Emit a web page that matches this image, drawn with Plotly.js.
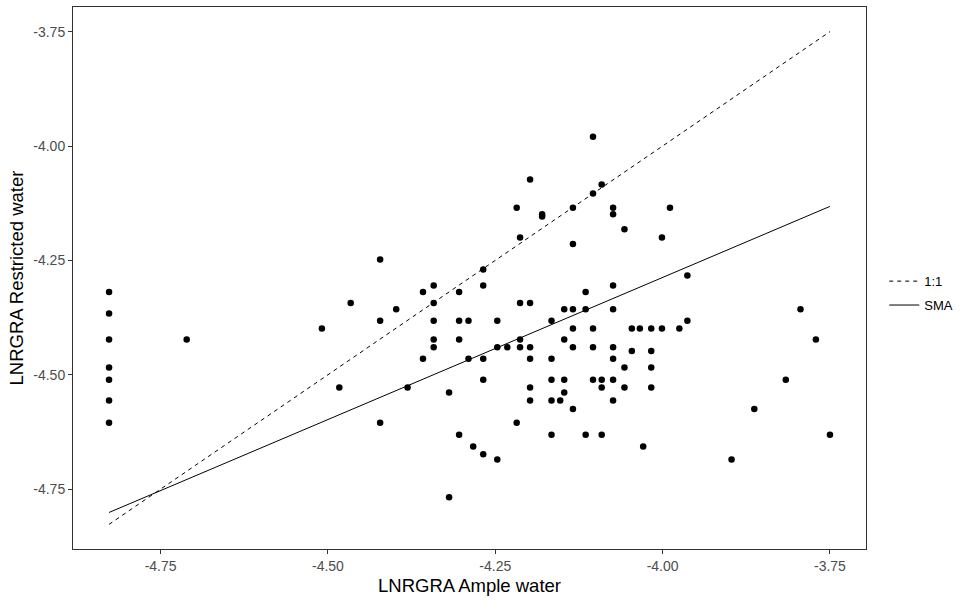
<!DOCTYPE html>
<html>
<head>
<meta charset="utf-8">
<script src="https://cdn.plot.ly/plotly-3.0.1.min.js"></script>
<style>
  html, body { margin: 0; padding: 0; background: #ffffff; }
  #chart { width: 967px; height: 601px; }
</style>
</head>
<body>
<div id="chart"></div>
<script>
// LNRGRA under ample water (x) vs restricted water (y), one point per genotype
const ampleWater = [
  -4.827, -4.827, -4.827, -4.827, -4.827, -4.827, -4.827, -4.711,
  -4.422, -4.268, -4.342, -4.268, -4.358, -4.304, -4.466, -4.342,
  -4.398, -4.509, -4.422, -4.342, -4.304, -4.290, -4.247, -4.342,
  -4.304, -4.342, -4.247, -4.358, -4.290, -4.268, -4.483, -4.381,
  -4.268, -4.319, -4.422, -4.304, -4.283, -4.268, -4.247, -4.319,
  -4.104, -4.198, -4.091, -4.104, -4.218, -4.180, -4.180, -4.134,
  -4.074, -4.074, -4.057, -4.213, -4.134, -4.074, -4.115, -4.213,
  -4.198, -4.147, -4.134, -4.115, -4.074, -4.166, -4.134, -4.104,
  -4.046, -4.034, -4.017, -4.001, -3.975, -4.213, -4.147, -4.232,
  -4.213, -4.198, -4.134, -4.104, -4.074, -4.198, -4.166, -4.074,
  -4.046, -4.017, -4.057, -4.017, -4.166, -4.147, -4.104, -4.091,
  -4.074, -4.198, -4.147, -4.091, -4.057, -4.017, -4.198, -4.166,
  -4.153, -4.074, -4.134, -4.218, -4.166, -4.115, -4.091, -4.029,
  -3.989, -4.001, -3.963, -3.963, -3.794, -3.771, -3.816, -3.863,
  -3.750, -3.897
];
const restrictedWater = [
  -4.319, -4.366, -4.423, -4.484, -4.511, -4.556, -4.605, -4.423,
  -4.248, -4.270, -4.305, -4.305, -4.319, -4.319, -4.343, -4.343,
  -4.357, -4.399, -4.382, -4.382, -4.382, -4.382, -4.382, -4.423,
  -4.423, -4.440, -4.440, -4.465, -4.465, -4.465, -4.528, -4.528,
  -4.511, -4.539, -4.605, -4.631, -4.657, -4.674, -4.685, -4.768,
  -3.980, -4.073, -4.084, -4.104, -4.135, -4.149, -4.154, -4.135,
  -4.135, -4.149, -4.182, -4.200, -4.214, -4.305, -4.319, -4.343,
  -4.343, -4.357, -4.357, -4.357, -4.357, -4.382, -4.399, -4.399,
  -4.399, -4.399, -4.399, -4.399, -4.399, -4.423, -4.423, -4.440,
  -4.440, -4.440, -4.440, -4.440, -4.440, -4.465, -4.465, -4.465,
  -4.448, -4.448, -4.484, -4.484, -4.511, -4.511, -4.511, -4.511,
  -4.511, -4.528, -4.539, -4.528, -4.528, -4.528, -4.556, -4.556,
  -4.556, -4.556, -4.575, -4.605, -4.631, -4.631, -4.631, -4.657,
  -4.135, -4.200, -4.283, -4.382, -4.357, -4.423, -4.511, -4.575,
  -4.631, -4.685
];

// Standardised major axis fit, drawn across the observed x span
const smaX = [-4.827, -3.750];
const smaY = [-4.801, -4.132];

// Reference 1:1 line over the same span
const oneToOneX = [Math.min(...ampleWater), Math.max(...ampleWater)];
const oneToOneY = oneToOneX.slice();

const tickVals = [-4.75, -4.50, -4.25, -4.00, -3.75];
const tickText = ['-4.75', '-4.50', '-4.25', '-4.00', '-3.75'];

// 5% padding around everything that is drawn on each axis
function paddedRange(values) {
  const lo = Math.min(...values), hi = Math.max(...values);
  const pad = (hi - lo) * 0.05;
  return [lo - pad, hi + pad];
}
const xRange = paddedRange(ampleWater.concat(smaX, oneToOneX));
const yRange = paddedRange(restrictedWater.concat(smaY, oneToOneY));

const FONT = 'Liberation Sans, Arial, Helvetica, sans-serif';

const traces = [
  {
    x: ampleWater, y: restrictedWater,
    type: 'scatter', mode: 'markers',
    marker: { color: '#000000', size: 6.5 },
    showlegend: false, hoverinfo: 'x+y'
  },
  {
    x: oneToOneX, y: oneToOneY,
    type: 'scatter', mode: 'lines', name: '1:1', legendgroup: 'ref',
    line: { color: '#000000', width: 1, dash: '4px,4px' }
  },
  {
    x: smaX, y: smaY,
    type: 'scatter', mode: 'lines', name: 'SMA', legendgroup: 'fit',
    line: { color: '#000000', width: 1 }
  }
];

const axisBase = {
  showgrid: false, zeroline: false,
  showline: true, mirror: true, linecolor: '#333333', linewidth: 1,
  ticks: 'outside', ticklen: 4, tickwidth: 1, tickcolor: '#333333',
  tickvals: tickVals, ticktext: tickText,
  tickfont: { family: FONT, size: 14, color: '#4d4d4d' }
};

const layout = {
  width: 967, height: 601,
  margin: { l: 73, r: 101, t: 7, b: 52 },
  paper_bgcolor: '#ffffff', plot_bgcolor: '#ffffff',
  font: { family: FONT, color: '#000000' },
  xaxis: Object.assign({}, axisBase, {
    range: xRange,
    title: { text: 'LNRGRA Ample water', font: { family: FONT, size: 18.5, color: '#000000' }, standoff: 6 }
  }),
  yaxis: Object.assign({}, axisBase, {
    range: yRange,
    title: { text: 'LNRGRA Restricted water', font: { family: FONT, size: 18.5, color: '#000000' }, standoff: 4 }
  }),
  legend: {
    x: 1.023, xanchor: 'left', y: 0.472, yanchor: 'middle',
    font: { family: FONT, size: 13, color: '#000000' },
    bgcolor: 'rgba(0,0,0,0)', itemwidth: 30,
    traceorder: 'grouped', tracegroupgap: 4
  },
  showlegend: true
};

Plotly.newPlot('chart', traces, layout, { displayModeBar: false, staticPlot: true });
</script>
</body>
</html>
